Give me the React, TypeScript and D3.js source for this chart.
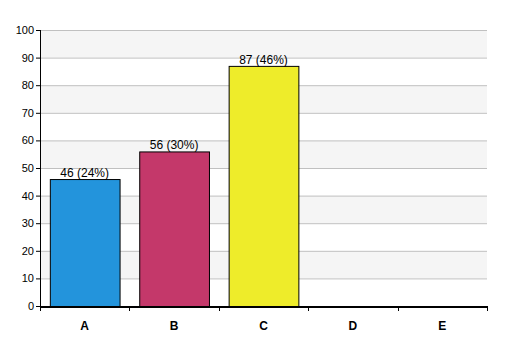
import React from "react";
import * as d3 from "d3";

const categories = ["A", "B", "C", "D", "E"];
const values = [46, 56, 87, 0, 0];
const labels = ["46 (24%)", "56 (30%)", "87 (46%)", "", ""];
const colors = ["#2394dc", "#c4386a", "#eeec2a", "#888888", "#888888"];
const yTicks = [0, 10, 20, 30, 40, 50, 60, 70, 80, 90, 100];

export default function App() {
  const W = 507, H = 356;
  const left = 40, right = 487, top = 30, bottom = 306;
  const x = d3.scaleBand<string>().domain(categories).range([left, right]).paddingInner(0.22).paddingOuter(0.11);
  const xb = d3.scaleBand<string>().domain(categories).range([left, right]);
  const y = d3.scaleLinear().domain([0, 100]).range([bottom, top]);
  const font = "Arial, 'Liberation Sans', sans-serif";
  return (
    <svg width={W} height={H} style={{ position: "absolute", left: 0, top: 0 }} fontFamily={font}>
      <rect x={0} y={0} width={W} height={H} fill="#fff" />
      {yTicks.slice(0, -1).map((t, i) => (
        <rect key={"b" + t} x={left} y={y(t + 10)} width={right - left} height={y(t) - y(t + 10)} fill={i % 2 === 1 ? "#f5f5f5" : "#ffffff"} />
      ))}
      {yTicks.slice(1).map((t) => (
        <line key={"g" + t} x1={left} x2={right} y1={y(t) + 0.5} y2={y(t) + 0.5} stroke="#c0c0c0" />
      ))}
      {categories.map((c, i) =>
        values[i] > 0 ? (
          <g key={c}>
            <rect x={x(c)! + 0.5} y={y(values[i]) + 0.5} width={x.bandwidth()} height={y(0) - y(values[i])} fill={colors[i]} stroke="#000" />
            <text x={x(c)! + x.bandwidth() / 2} y={y(values[i]) - 2} textAnchor="middle" fontSize={12} fill="#000">{labels[i]}</text>
          </g>
        ) : null
      )}
      <line x1={left + 0.5} x2={left + 0.5} y1={top} y2={bottom} stroke="#000" />
      {yTicks.map((t) => (
        <g key={"t" + t}>
          <line x1={left - 4} x2={left} y1={y(t) + 0.5} y2={y(t) + 0.5} stroke="#000" />
          <text x={left - 6} y={y(t) + 4} textAnchor="end" fontSize={11} fill="#000">{t}</text>
        </g>
      ))}
      <line x1={left} x2={right + 1} y1={bottom + 1} y2={bottom + 1} stroke="#000" strokeWidth={2} />
      {[...categories.map((c) => xb(c)!), right].map((p, i) => (
        <line key={"xt" + i} x1={Math.round(p) + 0.5} x2={Math.round(p) + 0.5} y1={bottom} y2={bottom + 5} stroke="#000" />
      ))}
      {categories.map((c) => (
        <text key={"xl" + c} x={xb(c)! + xb.bandwidth() / 2} y={330} textAnchor="middle" fontSize={12} fontWeight="bold" fill="#000">{c}</text>
      ))}
    </svg>
  );
}
